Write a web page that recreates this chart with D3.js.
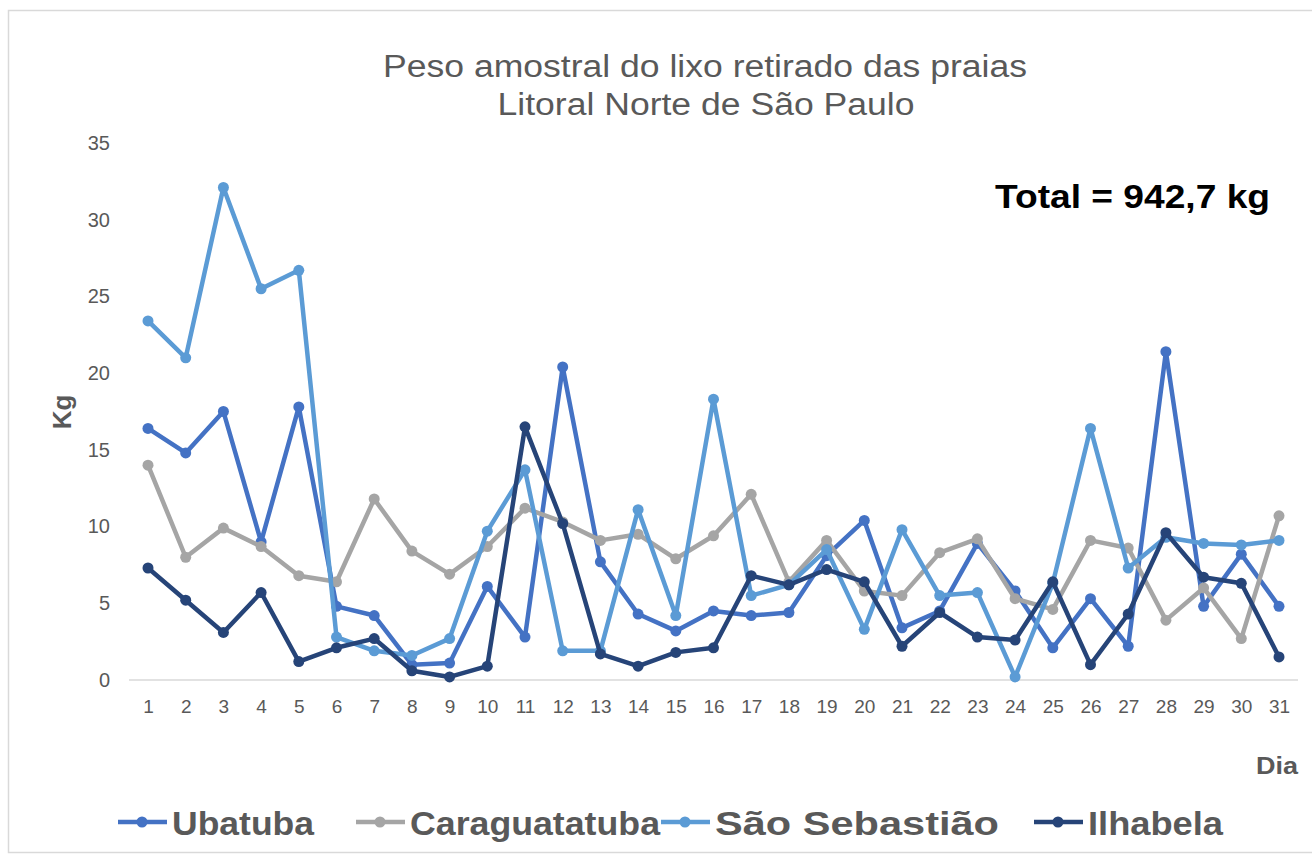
<!DOCTYPE html>
<html>
<head>
<meta charset="utf-8">
<script src="https://cdn.jsdelivr.net/npm/d3@7"></script>
<style>
  body { margin: 0; background: #fff; }
  text { font-family: "Liberation Sans", Arial, sans-serif; }
</style>
</head>
<body>
<div id="chart"></div>
<script>
// dias do mês
const days = d3.range(1, 32)
const yTicks = [0, 5, 10, 15, 20, 25, 30, 35]

const ubatuba = [16.4, 14.8, 17.5, 9.0, 17.8, 4.8, 4.2, 1.0, 1.1, 6.1, 2.8, 20.4, 7.7, 4.3, 3.2, 4.5, 4.2, 4.4, 8.1, 10.4, 3.4, 4.5, 8.9, 5.8, 2.1, 5.3, 2.2, 21.4, 4.8, 8.2, 4.8]
const caraguatatuba = [14.0, 8.0, 9.9, 8.7, 6.8, 6.4, 11.8, 8.4, 6.9, 8.7, 11.2, 10.3, 9.1, 9.5, 7.9, 9.4, 12.1, 6.4, 9.1, 5.8, 5.5, 8.3, 9.2, 5.3, 4.6, 9.1, 8.6, 3.9, 6.0, 2.7, 10.7]
const saoSebastiao = [23.4, 21.0, 32.1, 25.5, 26.7, 2.8, 1.9, 1.6, 2.7, 9.7, 13.7, 1.9, 1.9, 11.1, 4.2, 18.3, 5.5, 6.2, 8.5, 3.3, 9.8, 5.5, 5.7, 0.2, 6.3, 16.4, 7.3, 9.3, 8.9, 8.8, 9.1]
const ilhabela = [7.3, 5.2, 3.1, 5.7, 1.2, 2.1, 2.7, 0.6, 0.2, 0.9, 16.5, 10.2, 1.7, 0.9, 1.8, 2.1, 6.8, 6.2, 7.2, 6.4, 2.2, 4.4, 2.8, 2.6, 6.4, 1.0, 4.3, 9.6, 6.7, 6.3, 1.5]

const seriesNames = ["Ubatuba", "Caraguatatuba", "São Sebastião", "Ilhabela"]
const seriesColors = ["#4472C4", "#A5A5A5", "#5B9BD5", "#264478"]
const seriesData = [ubatuba, caraguatatuba, saoSebastiao, ilhabela]

const W = 1312, H = 857
const svg = d3.select("#chart")
    .append("svg")
    .attr("width", W)
    .attr("height", H)

// o texto original é um pouco "esticado" na horizontal
const stretch = (sel, w) => sel.attr("textLength", w).attr("lengthAdjust", "spacingAndGlyphs")

// moldura
svg.append("rect")
    .attr("x", 8.5).attr("y", 10.5)
    .attr("width", W).attr("height", H - 15)
    .attr("fill", "none")
    .attr("stroke", "#d9d9d9")
    .attr("stroke-width", 1.5)

const x = d3.scalePoint()
    .domain(days)
    .range([148, 1279])

const y = d3.scaleLinear()
    .domain([0, 35])
    .range([680, 143])

// título
svg.append("text")
    .attr("x", 705).attr("y", 77)
    .attr("text-anchor", "middle")
    .attr("font-size", 31)
    .attr("fill", "#595959")
    .text("Peso amostral do lixo retirado das praias")
    .call(stretch, 644)
svg.append("text")
    .attr("x", 706).attr("y", 115)
    .attr("text-anchor", "middle")
    .attr("font-size", 31)
    .attr("fill", "#595959")
    .text("Litoral Norte de São Paulo")
    .call(stretch, 417)

// eixo y (só rótulos)
const yAxis = d3.axisLeft(y).tickValues(yTicks).tickSize(0).tickPadding(0)
svg.append("g")
    .attr("transform", "translate(110, 0)")
    .call(yAxis)
    .call(g => g.select(".domain").remove())
    .call(g => g.selectAll("text")
        .attr("font-size", 20)
        .attr("fill", "#595959")
        .attr("font-family", "Liberation Sans, Arial, sans-serif"))

// linha do zero
svg.append("line")
    .attr("x1", 129).attr("x2", 1298)
    .attr("y1", y(0)).attr("y2", y(0))
    .attr("stroke", "#d9d9d9")
    .attr("stroke-width", 1.5)

// eixo x
const xAxis = d3.axisBottom(x).tickSize(0).tickPadding(0)
svg.append("g")
    .attr("transform", `translate(0, ${y(0) + 19})`)
    .call(xAxis)
    .call(g => g.select(".domain").remove())
    .call(g => g.selectAll("text")
        .attr("font-size", 19)
        .attr("fill", "#595959")
        .attr("font-family", "Liberation Sans, Arial, sans-serif"))

// títulos dos eixos
svg.append("text")
    .attr("transform", "translate(71, 412) rotate(-90)")
    .attr("text-anchor", "middle")
    .attr("font-size", 26)
    .attr("font-weight", "bold")
    .attr("fill", "#595959")
    .text("Kg")
svg.append("text")
    .attr("x", 1298).attr("y", 774)
    .attr("text-anchor", "end")
    .attr("font-size", 24)
    .attr("font-weight", "bold")
    .attr("fill", "#595959")
    .text("Dia")
    .call(stretch, 42)

// total
svg.append("text")
    .attr("x", 1270).attr("y", 208)
    .attr("text-anchor", "end")
    .attr("font-size", 33)
    .attr("font-weight", "bold")
    .attr("fill", "#000")
    .text("Total = 942,7 kg")
    .call(stretch, 275)

// séries
const line = d3.line()
    .x((d, i) => x(days[i]))
    .y(d => y(d))

seriesData.forEach((vals, s) => {
    const g = svg.append("g")
    g.append("path")
        .datum(vals)
        .attr("d", line)
        .attr("fill", "none")
        .attr("stroke", seriesColors[s])
        .attr("stroke-width", 4.5)
        .attr("stroke-linejoin", "round")
    g.selectAll("circle")
        .data(vals)
        .enter().append("circle")
        .attr("cx", (d, i) => x(days[i]))
        .attr("cy", d => y(d))
        .attr("r", 5.5)
        .attr("fill", seriesColors[s])
})

// legenda
const legendX = [118, 356, 661, 1034]
const legendW = [142, 250, 284, 135]
const legend = svg.append("g")
seriesNames.forEach((name, s) => {
    const lx = legendX[s]
    legend.append("line")
        .attr("x1", lx).attr("x2", lx + 49)
        .attr("y1", 822).attr("y2", 822)
        .attr("stroke", seriesColors[s])
        .attr("stroke-width", 4.5)
    legend.append("circle")
        .attr("cx", lx + 24).attr("cy", 822)
        .attr("r", 5.5)
        .attr("fill", seriesColors[s])
    legend.append("text")
        .attr("x", lx + 54).attr("y", 835)
        .attr("font-size", 34)
        .attr("font-weight", "bold")
        .attr("fill", "#595959")
        .text(name)
        .call(stretch, legendW[s])
})
</script>
</body>
</html>
